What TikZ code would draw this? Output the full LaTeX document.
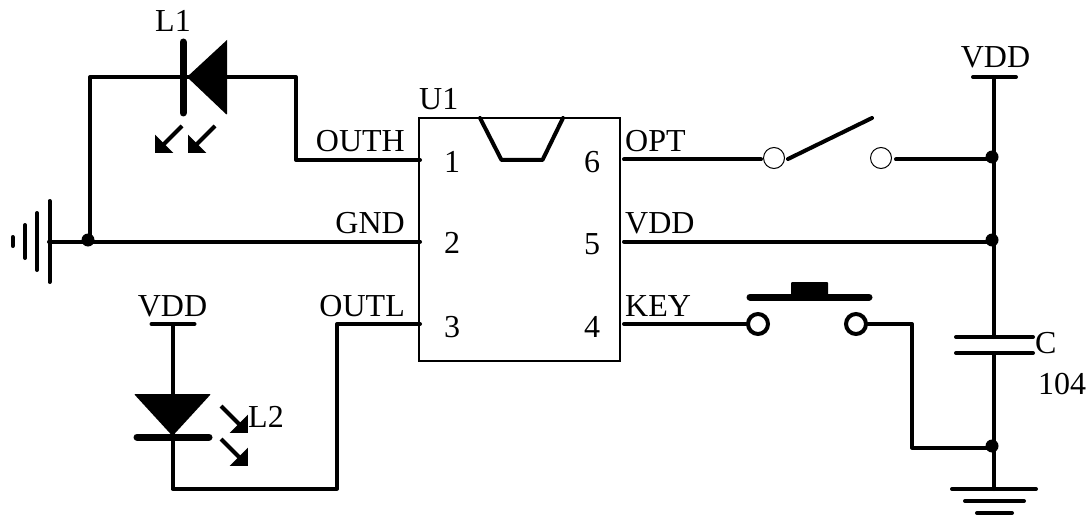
\documentclass[tikz,border=0pt]{standalone}
\usepackage{fontspec}
\setmainfont{Liberation Serif}
\usetikzlibrary{arrows.meta}
\tikzset{
    wire/.style={line width=4pt, line join=round, line cap=round},
    bar/.style={line width=7pt, line cap=round},
    ray/.style={line width=4pt, -{Triangle[length=13pt,width=25pt]}},
    dot/.style={circle, fill, inner sep=0pt, minimum size=13pt},
    pad/.style={circle, draw, fill=white, inner sep=0pt, minimum size=21pt, line width=1pt},
    key pad/.style={circle, draw, fill=white, inner sep=0pt, minimum size=20pt, line width=4pt},
    lbl/.style={inner sep=0pt, font=\fontsize{32}{32}\selectfont},
}
\begin{document}
\begin{tikzpicture}[x=1pt, y=-1pt]
            \useasboundingbox (0,0) rectangle (1087,524);

            \draw (519.5,239.5) node[draw, line width=1.3pt, minimum width=201pt, minimum height=243pt, inner sep=0pt] (U1) {};
            \draw (88,240) node[dot] (gnddot) {};
            \draw (992,157) node[dot] (optdot) {};
            \draw (992,240) node[dot] (vdddot) {};
            \draw (992,446) node[dot] (keydot) {};
            \draw (774,158) node[pad] (sw1) {};
            \draw (881,158) node[pad] (sw2) {};
            \draw (758,324) node[key pad] (key1) {};
            \draw (856,324) node[key pad] (key2) {};

            \coordinate (pin1) at (420,160);
            \coordinate (pin2) at (420,241.5);
            \coordinate (pin3) at (420,324);
            \coordinate (pin6) at (624,159.5);
            \coordinate (pin5) at (624,241.5);
            \coordinate (pin4) at (624,324);

            \draw[wire] (pin1) -- (296,160) coordinate (c1) -- (296,77) coordinate (c2) -- (90,77) coordinate (c3) -- (90,241.5) coordinate (c4);
            \draw[wire] (49,241.5) coordinate (gnd1) -- (pin2);
            \draw[wire] (pin3) -- (337,324) coordinate (c5) -- (337,488.5) coordinate (c6) -- (172.5,488.5) coordinate (c7) -- (172.5,324) coordinate (vddl);
            \draw[wire, shorten >=2pt] (pin6) -- (sw1.west |- pin6);
            \draw[wire, shorten <=4pt] (sw2.east |- pin6) -- (optdot.center |- pin6);
            \draw[wire] (pin5) -- (994,241.5) coordinate (c8);
            \draw[wire] (pin4) -- (key1);
            \draw[wire] (key2) -- (912,324) coordinate (c9) -- (912,447.5) coordinate (c10) -- (994,447.5) coordinate (c11);
            \draw[wire] (994,77) coordinate (vddr) -- (994,337) coordinate (capa);
            \draw[wire] (994,353) coordinate (capb) -- (994,489) coordinate (gnd2);

            \fill (187,77) coordinate (t1) -- (227,40) coordinate (t2) [rounded corners=1pt] -- (227,115) coordinate (t3) -- cycle;
            \draw[bar] (183,42) coordinate (b1) -- (183,113) coordinate (b2);
            \fill[rounded corners=1pt] (134,394) coordinate (t4) -- (211,394) coordinate (t5) -- (172.5,436) coordinate (t6) -- cycle;
            \draw[bar] (137,437) coordinate (b3) -- (209,437) coordinate (b4);
            \draw[ray] (182,126) coordinate (r1) -- (155,153) coordinate (r2);
            \draw[ray] (215,126) coordinate (r3) -- (188,153) coordinate (r4);
            \draw[ray] (221,406) coordinate (r5) -- (248,433) coordinate (r6);
            \draw[ray] (221,439) coordinate (r7) -- (248,466) coordinate (r8);

            \draw[wire] (480,118) coordinate (n1) -- (501.5,160) coordinate (n2) -- (542.5,160) coordinate (n3) -- (563,118) coordinate (n4);
            \draw[wire] (788,159) coordinate (arm1) -- (872,118) coordinate (arm2);
            \draw[bar] (750,297) coordinate (b5) -- (869,297) coordinate (b6);
            \fill[rounded corners=1pt] (791,282) coordinate (k1) rectangle (828,297) coordinate (k2);

            \draw[wire] (973,77) coordinate (v1) -- (1016,77) coordinate (v2);
            \draw[wire] (151.5,324) coordinate (v3) -- (194.5,324) coordinate (v4);
            \draw[wire] (956,337) coordinate (p1) -- (1033,337) coordinate (p2);
            \draw[wire] (956,353) coordinate (p3) -- (1033,353) coordinate (p4);
            \draw[wire] (952,489) coordinate (g1) -- (1036,489) coordinate (g2);
            \draw[wire] (965,501) coordinate (g3) -- (1024,501) coordinate (g4);
            \draw[wire] (977,513) coordinate (g5) -- (1012,513) coordinate (g6);
            \draw[wire] (49.5,201) coordinate (g7) -- (49.5,282) coordinate (g8);
            \draw[wire] (37,213) coordinate (g9) -- (37,270) coordinate (g10);
            \draw[wire] (25,225) coordinate (g11) -- (25,258) coordinate (g12);
            \draw[wire] (12.7,237) coordinate (g13) -- (12.7,246) coordinate (g14);

            \draw (173,32) node[lbl, anchor=base] (l1) {L1};
            \draw (248,427) node[lbl, anchor=base west] (l2) {L2};
            \draw (419,110) node[lbl, anchor=base west] (u1) {U1};
            \draw (405,152) node[lbl, anchor=base east] (outh) {OUTH};
            \draw (405,233) node[lbl, anchor=base east] (gnd) {GND};
            \draw (405,316) node[lbl, anchor=base east] (outl) {OUTL};
            \draw (172.5,316) node[lbl, anchor=base] (vdd1) {VDD};
            \draw (625,152) node[lbl, anchor=base west] (opt) {OPT};
            \draw (625,233) node[lbl, anchor=base west] (vdd2) {VDD};
            \draw (625,316) node[lbl, anchor=base west] (keyl) {KEY};
            \draw (995.5,68) node[lbl, anchor=base] (vdd3) {VDD};
            \draw (1035,353) node[lbl, anchor=base west] (cap) {C};
            \draw (1038,394) node[lbl, anchor=base west] (capv) {104};
            \draw (452,172) node[lbl, anchor=base] (n1t) {1};
            \draw (452,253) node[lbl, anchor=base] (n2t) {2};
            \draw (452,337) node[lbl, anchor=base] (n3t) {3};
            \draw (592,172) node[lbl, anchor=base] (n6t) {6};
            \draw (592,254) node[lbl, anchor=base] (n5t) {5};
            \draw (592,337) node[lbl, anchor=base] (n4t) {4};
        \end{tikzpicture}
\end{document}
